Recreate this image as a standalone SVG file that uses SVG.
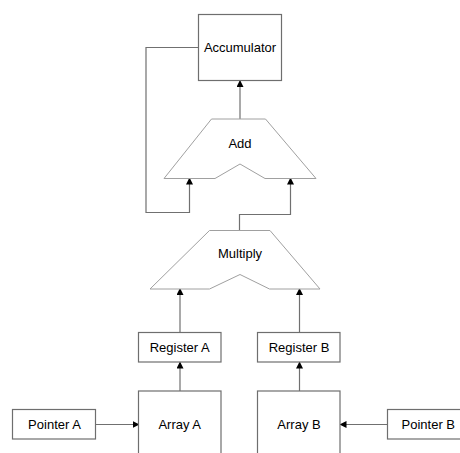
<svg xmlns="http://www.w3.org/2000/svg" width="460" height="453" viewBox="0 0 460 453">
<defs>
<marker id="arr" markerWidth="7" markerHeight="7" refX="6" refY="3.5" orient="auto" markerUnits="userSpaceOnUse">
<path d="M0,0 L7,3.5 L0,7 Z" fill="#000"/>
</marker>
<style>
.box{fill:#fff;stroke:#6e6e6e;stroke-width:1.2}
.alu{fill:#fff;stroke:#a0a0a0;stroke-width:1}
.ln{fill:none;stroke:#707070;stroke-width:1.2}
text{font-family:"Liberation Sans",Arial,sans-serif;font-size:13px;fill:#000;text-anchor:middle}
</style>
</defs>
<rect width="460" height="453" fill="#fff"/>
<g id="connectors">
<path class="ln" d="M240,119 V81" marker-end="url(#arr)"/>
<path class="ln" d="M198,47.5 H146 V212.5 H189.5 V178.5" marker-end="url(#arr)"/>
<path class="ln" d="M239.5,230.5 V214.5 H290.5 V178.5" marker-end="url(#arr)"/>
<path class="ln" d="M180,333 V289" marker-end="url(#arr)"/>
<path class="ln" d="M299.5,333 V289" marker-end="url(#arr)"/>
<path class="ln" d="M180,391 V362.5" marker-end="url(#arr)"/>
<path class="ln" d="M299.5,391 V362.5" marker-end="url(#arr)"/>
<path class="ln" d="M95.5,424.5 H138.5" marker-end="url(#arr)"/>
<path class="ln" d="M387.5,424.5 H340.5" marker-end="url(#arr)"/>
</g>
<g id="accumulator">
<rect class="box" x="198.5" y="14.5" width="83" height="66"/>
<text x="240" y="52">Accumulator</text>
</g>
<g id="add">
<path class="alu" d="M211.5,119 H265.5 L316,178.5 H265 L240,164 L215,178.5 H164 Z"/>
<text x="240" y="148">Add</text>
</g>
<g id="multiply">
<path class="alu" d="M209.5,230.5 H270 L320,289 H269.5 L240,274.5 L209.5,289 H150 Z"/>
<text x="240" y="258">Multiply</text>
</g>
<g id="registerA">
<rect class="box" x="138.5" y="332.5" width="82.5" height="29.5"/>
<text x="179.7" y="352">Register A</text>
</g>
<g id="registerB">
<rect class="box" x="257.5" y="332.5" width="82.5" height="29.5"/>
<text x="299" y="352">Register B</text>
</g>
<g id="arrayA">
<rect class="box" x="138.5" y="391" width="82.5" height="70"/>
<text x="179.7" y="429">Array A</text>
</g>
<g id="arrayB">
<rect class="box" x="257.5" y="391" width="82.5" height="70"/>
<text x="299" y="429">Array B</text>
</g>
<g id="pointerA">
<rect class="box" x="12.5" y="409.5" width="83" height="29.5"/>
<text x="54.5" y="429">Pointer A</text>
</g>
<g id="pointerB">
<rect class="box" x="387.5" y="409.5" width="83" height="29.5"/>
<text x="428.3" y="429">Pointer B</text>
</g>
</svg>
